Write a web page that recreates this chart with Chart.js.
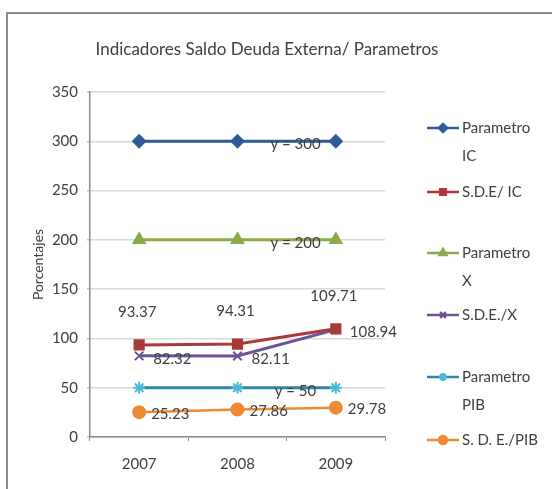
<!DOCTYPE html>
<html lang="es">
<head>
    <meta charset="UTF-8">
    <title>Indicadores Saldo Deuda Externa/ Parametros</title>
    <style>
        html, body { margin: 0; padding: 0; background: #ffffff; }
        #wrap { position: relative; width: 552px; height: 489px; }
    </style>
    <script src="https://cdn.jsdelivr.net/npm/chart.js"></script>
</head>
<body>
    <div id="wrap"><canvas id="deudaChart" width="552" height="489"></canvas></div>

    <script>
        // Datos
        const years = ['2007', '2008', '2009'];
        const yTicks = [0, 50, 100, 150, 200, 250, 300, 350];

        const parametroIC = [300, 300, 300];
        const sdeIC = [93.37, 94.31, 109.71];
        const parametroX = [200, 200, 200];
        const sdeX = [82.32, 82.11, 108.94];
        const parametroPIB = [50, 50, 50];
        const sdePIB = [25.23, 27.86, 29.78];

        const seriesNames = ['Parametro IC', 'S.D.E/ IC', 'Parametro X', 'S.D.E./X', 'Parametro PIB', 'S. D. E./PIB'];
        const legendLines = [['Parametro', 'IC'], ['S.D.E/ IC'], ['Parametro', 'X'], ['S.D.E./X'], ['Parametro', 'PIB'], ['S. D. E./PIB']];
        const trendTexts = ['y = 300', 'y = 200', 'y = 50'];

        const chartTitle = 'Indicadores Saldo Deuda Externa/ Parametros';
        const yTitle = 'Porcentajes';

        const FONT = 'Lato, "Open Sans", sans-serif';
        const TEXT = '#404040';

        // borde exterior, titulo, leyenda y etiquetas
        const decorPlugin = {
            id: 'decor',
            beforeDraw(chart) {
                const c = chart.ctx;
                c.save();
                c.fillStyle = '#ffffff';
                c.fillRect(0, 0, chart.width, chart.height);
                c.strokeStyle = '#8c8c8c';
                c.lineWidth = 2;
                c.strokeRect(7, 13, 700, 700);
                c.restore();
            },
            afterDraw(chart) {
                const c = chart.ctx;
                const xs = chart.scales.x;
                const ys = chart.scales.y;
                c.save();
                c.fillStyle = TEXT;
                c.textBaseline = 'middle';

                // titulo
                c.font = '17px ' + FONT;
                c.textAlign = 'center';
                c.fillText(chartTitle, 267, 50);

                // etiquetas de datos
                c.font = '15px ' + FONT;
                const labelCfg = [
                    null,
                    { align: 'center', dx: -2, dy: -33 },
                    null,
                    { align: 'left', dx: 14, dy: 3 },
                    null,
                    { align: 'left', dx: 12, dy: 2 }
                ];
                chart.data.datasets.forEach((ds, i) => {
                    const cfg = labelCfg[i];
                    if (!cfg) return;
                    const meta = chart.getDatasetMeta(i);
                    c.textAlign = cfg.align;
                    meta.data.forEach((pt, j) => {
                        c.fillText(ds.data[j].toFixed(2), pt.x + cfg.dx, pt.y + cfg.dy);
                    });
                });

                // ecuaciones de tendencia
                const trendSets = [0, 2, 4];
                c.textAlign = 'center';
                trendSets.forEach((di, k) => {
                    const ds = chart.data.datasets[di];
                    const x = xs.getPixelForValue(1) + 0.59 * (xs.getPixelForValue(2) - xs.getPixelForValue(1));
                    const y = ys.getPixelForValue(ds.data[2]) + 3;
                    c.fillText(trendTexts[k], x, y);
                });

                // leyenda
                const legendY = [128, 192, 253, 315, 377, 440];
                c.textAlign = 'left';
                chart.data.datasets.forEach((ds, i) => {
                    const y = legendY[i];
                    c.strokeStyle = ds.borderColor;
                    c.lineWidth = 2.5;
                    c.beginPath();
                    c.moveTo(427, y);
                    c.lineTo(459, y);
                    c.stroke();
                    c.fillStyle = ds.pointBackgroundColor;
                    c.strokeStyle = ds.pointBorderColor;
                    Chart.helpers.drawPoint(c, {
                        pointStyle: ds.pointStyle,
                        radius: 4,
                        rotation: 0,
                        borderWidth: 1.5
                    }, 443, y);
                    c.fillStyle = TEXT;
                    legendLines[i].forEach((line, k) => {
                        c.fillText(line, 462, y + k * 28);
                    });
                });
                c.restore();
            }
        };

        const colors = ['#2f5b98', '#a83a3a', '#8aab47', '#6c5394', '#2f86a6', '#ee8a33'];
        const markerColors = ['#2f5b98', '#a83a3a', '#8aab47', '#6c5394', '#4bb8d8', '#ee8a33'];
        const styles = ['rectRot', 'rect', 'triangle', 'crossRot', 'star', 'circle'];
        const radii = [6, 6.5, 6.5, 6, 6, 6];
        const widths = [3, 3, 3, 3, 3, 2.5];
        const values = [parametroIC, sdeIC, parametroX, sdeX, parametroPIB, sdePIB];

        const ctx = document.getElementById('deudaChart').getContext('2d');
        const deudaChart = new Chart(ctx, {
            type: 'line',
            data: {
                labels: years,
                datasets: values.map((v, i) => ({
                    label: seriesNames[i],
                    data: v,
                    borderColor: colors[i],
                    backgroundColor: colors[i],
                    pointBackgroundColor: markerColors[i],
                    pointBorderColor: markerColors[i],
                    pointStyle: styles[i],
                    pointRadius: radii[i],
                    pointBorderWidth: 2,
                    borderWidth: widths[i],
                    tension: 0,
                    fill: false
                }))
            },
            options: {
                responsive: false,
                animation: false,
                events: [],
                layout: {
                    padding: { left: 0, right: 167, top: 92, bottom: 2 }
                },
                plugins: {
                    legend: { display: false },
                    title: { display: false },
                    tooltip: { enabled: false }
                },
                scales: {
                    x: {
                        offset: true,
                        grid: {
                            offset: true,
                            drawOnChartArea: false,
                            drawTicks: true,
                            tickLength: 4,
                            color: '#8c8c8c'
                        },
                        border: { color: '#8c8c8c', width: 1.5 },
                        ticks: {
                            color: TEXT,
                            padding: 14,
                            font: { family: FONT, size: 15 }
                        }
                    },
                    y: {
                        min: 0,
                        max: 350,
                        afterBuildTicks(scale) {
                            scale.ticks = yTicks.map(v => ({ value: v }));
                        },
                        afterFit(scale) {
                            scale.width = 90;
                        },
                        grid: {
                            color: '#d9d9d9',
                            lineWidth: 1.5,
                            tickLength: 3,
                            tickColor: '#bfbfbf'
                        },
                        border: { color: '#8c8c8c', width: 1.5 },
                        ticks: {
                            color: TEXT,
                            padding: 9,
                            font: { family: FONT, size: 15 }
                        },
                        title: {
                            display: true,
                            text: yTitle,
                            color: TEXT,
                            padding: { top: 30, bottom: 0 },
                            font: { family: FONT, size: 14 }
                        }
                    }
                }
            },
            plugins: [decorPlugin]
        });
    </script>
</body>
</html>
